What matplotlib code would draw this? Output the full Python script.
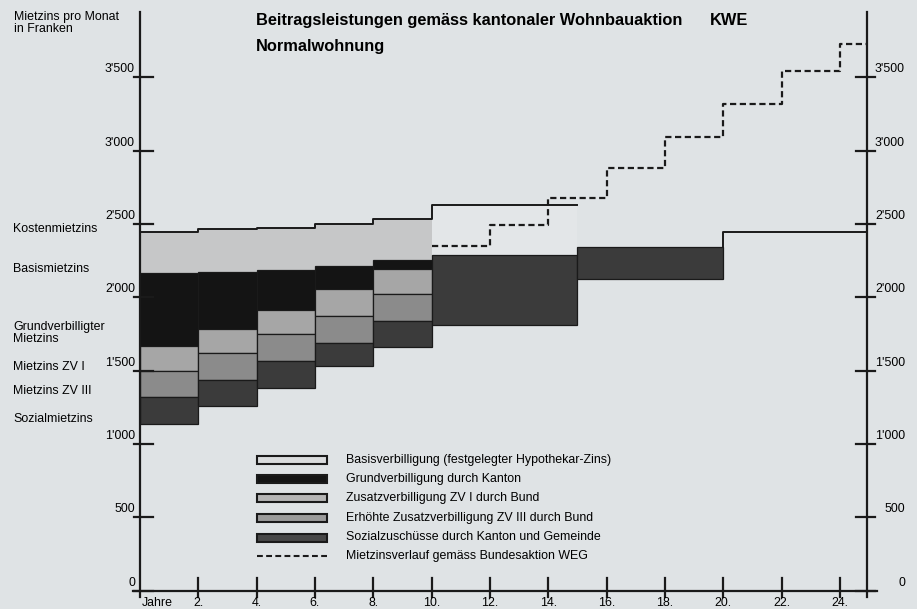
import matplotlib
matplotlib.use('Agg')
import matplotlib.pyplot as plt
from matplotlib.patches import Rectangle

# subsidised phase, two-year periods
period_start = [0, 2, 4, 6, 8]
period_width = 2
kostenmietzins = [2442, 2464, 2475, 2497, 2531]
basismietzins = [2163, 2173, 2186, 2214, 2253]
grundverbilligt = [1666, 1786, 1916, 2053, 2196]
mietzins_zv1 = [1497, 1620, 1748, 1872, 2021]
mietzins_zv3 = [1320, 1438, 1565, 1688, 1838]
sozialmietzins = [1133, 1256, 1384, 1529, 1661]

# after year 10: only social subsidies remain
late_start = [10, 15]
late_width = 5
late_top = [2290, 2345]
late_bottom = [1809, 2123]
kosten_late = 2630      # years 10-15
kosten_end = 2446       # years 20-25
kosten_end_start = 20

# WEG (Bundesaktion) rent path
weg_years = [10, 12, 14, 16, 18, 20, 22, 24]
weg_mietzins = [2348, 2496, 2678, 2883, 3094, 3317, 3541, 3727]

yticks = [0, 500, 1000, 1500, 2000, 2500, 3000, 3500]
ytick_labels = ["0", "500", "1'000", "1'500", "2'000", "2'500", "3'000", "3'500"]
xticks = [2, 4, 6, 8, 10, 12, 14, 16, 18, 20, 22, 24]
x_end = 24.92

left_labels = ["Kostenmietzins", "Basismietzins", "Grundverbilligter\nMietzins",
               "Mietzins ZV I", "Mietzins ZV III", "Sozialmietzins"]
left_label_y = [228.7, 268.7, 332.7, 366.7, 390.7, 419]

legend_labels = ["Basisverbilligung (festgelegter Hypothekar-Zins)",
                 "Grundverbilligung durch Kanton",
                 "Zusatzverbilligung ZV I durch Bund",
                 "Erhöhte Zusatzverbilligung ZV III durch Bund",
                 "Sozialzuschüsse durch Kanton und Gemeinde",
                 "Mietzinsverlauf gemäss Bundesaktion WEG"]

BG = '#dfe3e5'
C_BASIS = '#c6c7c8'
C_BASIS_LATE = '#e3e6e8'
C_GRUND = '#141414'
C_ZV1 = '#a6a6a6'
C_ZV3 = '#8b8b8b'
C_SOZ = '#3b3b3b'
INK = '#1a1a1a'
FS = 8.9

plt.rcParams['font.family'] = ['Liberation Sans', 'DejaVu Sans']


# pixel helpers (reference is 917x609)
def px_x(p):
    return (p - 139.8) / 29.18


def px_y(p):
    return (590.5 - p) / 0.14663


def main():
    fig = plt.figure(figsize=(9.17, 6.09), dpi=100, facecolor=BG)
    ax = fig.add_axes([0, 0, 1, 1])
    ax.set_xlim(px_x(0), px_x(917))
    ax.set_ylim(px_y(609), px_y(0))
    ax.set_axis_off()
    ax.set_facecolor(BG)

    # stacked bands, top to bottom
    bands = [
        (basismietzins, kostenmietzins, C_BASIS, 'none'),
        (grundverbilligt, basismietzins, C_GRUND, INK),
        (mietzins_zv1, grundverbilligt, C_ZV1, INK),
        (mietzins_zv3, mietzins_zv1, C_ZV3, INK),
        (sozialmietzins, mietzins_zv3, C_SOZ, INK),
    ]
    for lower, upper, col, ec in bands:
        heights = [u - l for u, l in zip(upper, lower)]
        ax.bar(period_start, heights, width=period_width, bottom=lower, align='edge',
               color=col, edgecolor=ec, linewidth=0.9)

    ax.bar(late_start[0], kosten_late - late_top[0], width=late_width, bottom=late_top[0],
           align='edge', color=C_BASIS_LATE, edgecolor='none')
    ax.bar(late_start, [t - b for t, b in zip(late_top, late_bottom)], width=late_width,
           bottom=late_bottom, align='edge', color=C_SOZ, edgecolor=INK, linewidth=0.9)

    # Kostenmietzins line
    kx = period_start + [late_start[0], late_start[0] + late_width]
    ky = kostenmietzins + [kosten_late, kosten_late]
    ax.step(kx, ky, where='post', color=INK, lw=1.4)
    ax.plot([kosten_end_start, kosten_end_start, x_end],
            [late_top[1], kosten_end, kosten_end], color=INK, lw=1.4)

    # WEG dashed path
    ax.step(weg_years + [x_end], weg_mietzins + [weg_mietzins[-1]], where='post',
            color=INK, lw=1.6, linestyle=(0, (2.8, 1.6)))

    # axes lines
    ax.plot([0, 0], [px_y(597), px_y(12)], color=INK, lw=1.6, clip_on=False)
    ax.plot([x_end, x_end], [px_y(597), px_y(12)], color=INK, lw=1.6, clip_on=False)
    ax.plot([px_x(133), px_x(877)], [0, 0], color=INK, lw=1.6)

    for v, lab in zip(yticks, ytick_labels):
        ax.plot([px_x(134), px_x(153)], [v, v], color=INK, lw=1.6)
        ax.plot([px_x(856), px_x(875)], [v, v], color=INK, lw=1.6)
        yy = v + 8 / 0.14663
        ax.text(px_x(135), yy, lab, ha='right', va='center', fontsize=FS)
        ax.text(px_x(905), yy, lab, ha='right', va='center', fontsize=FS)

    for t in xticks:
        ax.plot([t, t], [px_y(597), px_y(578)], color=INK, lw=1.6)
        ax.text(t, px_y(608.5), f"{t}.", ha='center', va='bottom', fontsize=FS)
    ax.text(px_x(142), px_y(608.5), "Jahre", ha='left', va='bottom', fontsize=FS)

    # titles
    ax.text(px_x(256), px_y(20.7), "Beitragsleistungen gemäss kantonaler Wohnbauaktion",
            ha='left', va='center', fontsize=11.8, fontweight='bold')
    ax.text(px_x(710), px_y(20.7), "KWE", ha='left', va='center',
            fontsize=11.8, fontweight='bold')
    ax.text(px_x(256), px_y(46.7), "Normalwohnung", ha='left', va='center',
            fontsize=11.8, fontweight='bold')
    ax.text(px_x(14), px_y(11), "Mietzins pro Monat\nin Franken", ha='left', va='top',
            fontsize=FS, linespacing=0.95)

    for lab, yy in zip(left_labels, left_label_y):
        ax.text(px_x(13), px_y(yy), lab, ha='left', va='center', fontsize=FS,
                linespacing=1.0)

    # legend
    leg_fill = ['#dadcdd', C_GRUND, '#b5b5b5', '#9b9b9b', '#474747']
    row_y = [460, 479, 498, 518, 537.5, 556]
    for i, lab in enumerate(legend_labels):
        yc = row_y[i]
        if i < 5:
            ax.add_patch(Rectangle((px_x(257), px_y(yc + 4)), px_x(327) - px_x(257),
                                   8 / 0.14663, facecolor=leg_fill[i],
                                   edgecolor=INK, linewidth=1.5))
        else:
            ax.plot([px_x(257), px_x(327)], [px_y(yc), px_y(yc)], color=INK, lw=1.5,
                    linestyle=(0, (2.8, 1.6)))
        ax.text(px_x(346), px_y(yc), lab, ha='left', va='center', fontsize=FS)

    fig.savefig('out.png', dpi=100, facecolor=BG)


if __name__ == "__main__":
    main()
